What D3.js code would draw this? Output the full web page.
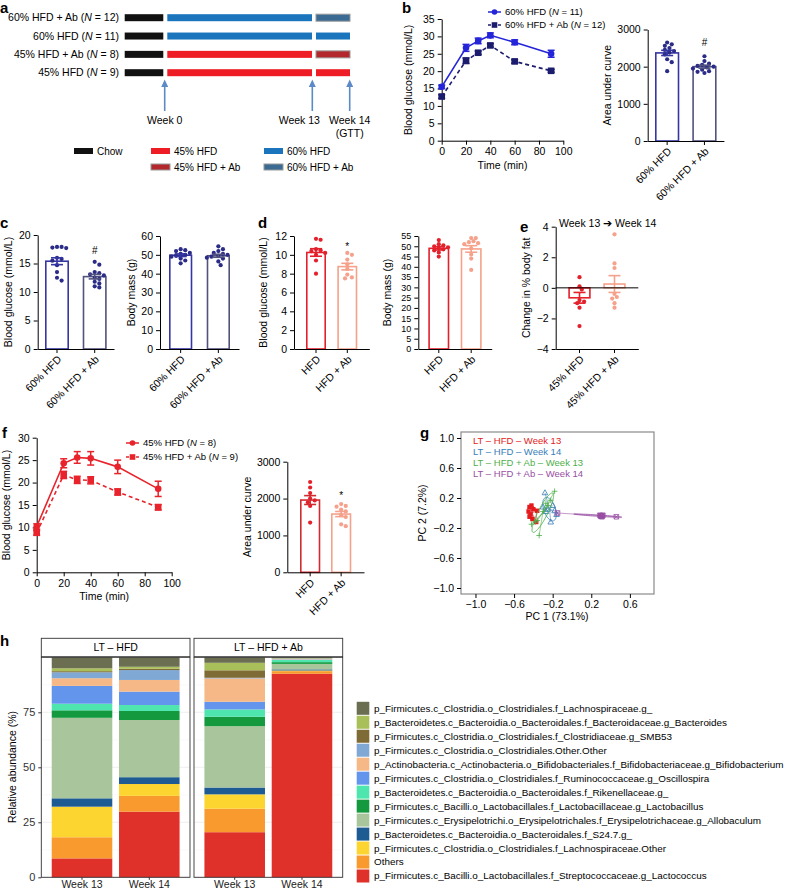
<!DOCTYPE html>
<html><head><meta charset="utf-8">
<script src="https://cdn.jsdelivr.net/npm/d3@7"></script>
<style>body{margin:0;background:#fff}</style>
</head><body>
<svg id="c" width="788" height="891" xmlns="http://www.w3.org/2000/svg"></svg>
<script>
// ---------------- DATA ----------------
// panel a
const aRows = ["60% HFD + Ab","60% HFD","45% HFD + Ab","45% HFD"];
const aN = [12,11,8,9];
const aDiet = ["60% HFD","60% HFD","45% HFD","45% HFD"];
const aFinal = ["60% HFD + Ab","60% HFD","45% HFD + Ab","45% HFD"];
const aPhaseWeeks = [-1,0,13,14];
const aArrowWeeks = [0,13,14];
const aArrowLabels = [["Week 0"],["Week 13"],["Week 14","(GTT)"]];
const aLegend = ["Chow","45% HFD","60% HFD","45% HFD + Ab","60% HFD + Ab"];
// panel b
const gttTime = [0,20,30,40,60,90];
const bHfd60 = [15.5,26.7,28.7,30.3,28.3,25.0];
const bHfd60Sem = [0.5,1.0,0.8,0.7,0.7,1.0];
const bHfd60Ab = [12.7,23.0,25.3,27.4,22.8,20.1];
const bHfd60AbSem = [0.5,0.8,0.5,0.5,0.5,0.4];
const bAucMean = [2370,2000];
const bAucSem = [70,40];
const bAucDots = [[2650,2600,2560,2500,2450,2420,2380,2330,2200,2120,1880],
                  [2280,2150,2080,2050,2020,2000,1980,1950,1920,1880,1860,1830]];
// panel c
const cGluMean = [15.4,12.7], cGluSem = [0.6,0.4];
const cGluDots = [[17.9,17.8,17.9,17.7,16.0,15.8,15.5,14.7,13.5,12.5,12.0],
                  [15.3,14.8,13.5,13.3,13.1,12.9,12.5,12.3,11.8,11.5,11.0,10.8]];
const cMassMean = [49.8,49.5], cMassSem = [0.7,0.8];
const cMassDots = [[53,52.5,52,51,50.5,50,49.5,49,48,47,45.5],
                   [54.5,53,52,51,50.5,50,49.5,49,48.5,48,46.5,44.5]];
// panel d
const dGluMean = [10.25,8.75], dGluSem = [0.4,0.35];
const dGluDots = [[11.7,11.6,10.6,10.5,10.4,10.2,10.0,9.4,8.0],
                  [10.2,10.0,9.5,9.0,8.5,7.9,7.6,7.5]];
const dMassMean = [49.0,48.7], dMassSem = [0.8,1.6];
const dMassDots = [[53,51,50.5,50,49.5,49,48.5,48,47,45],
                   [54,54,52.5,52,51.5,51,49,46,44,38.5]];
// panel e
const eMean = [-0.65,0.25], eSem = [0.35,0.55];
const eDots = [[0.7,0.1,-0.1,-0.8,-0.9,-1.0,-1.3,-2.5],
               [3.5,1.6,1.3,-0.4,-0.6,-0.7,-1.0,-1.3]];
// panel f
const fHfd45 = [10.2,24.3,25.6,25.4,23.5,18.6];
const fHfd45Sem = [0.6,1.0,1.3,1.5,1.5,1.7];
const fHfd45Ab = [8.8,21.7,20.6,20.5,17.9,14.5];
const fHfd45AbSem = [0.5,0.8,0.8,0.8,0.7,0.6];
const fAucMean = [1960,1580], fAucSem = [120,70];
const fAucDots = [[2450,2300,2150,2000,1950,1900,1800,1350],
                  [1850,1800,1780,1700,1650,1550,1500,1300,1250]];
// panel g (PC1, PC2)
const gGroups = ["LT – HFD – Week 13","LT – HFD – Week 14","LT – HFD + Ab – Week 13","LT – HFD + Ab – Week 14"];
const gPC1 = [[-0.44,-0.42,-0.45,-0.40,-0.43,-0.41,-0.37,-0.44,-0.36],
              [-0.28,-0.16,-0.22,-0.25,-0.30,-0.20,-0.27,-0.18],
              [-0.18,-0.34,-0.42,-0.22,-0.36,-0.30,-0.38,-0.25,-0.27],
              [0.30,0.31,0.29,0.46,-0.15,0.30,0.32,0.31]];
const gPC2 = [[0.08,0.10,0.02,0.05,-0.02,-0.08,-0.12,-0.05,0.03],
              [0.27,-0.02,-0.12,0.05,0.08,0.10,0.02,0.03],
              [0.29,-0.30,-0.15,0.17,-0.10,0.02,-0.12,0.10,0.13],
              [-0.04,-0.04,-0.03,-0.05,0.0,-0.04,-0.03,-0.05]];
const gTicks = [-1.0,-0.6,-0.2,0.2,0.6,1.0];
// panel h
const hFacets = ["LT – HFD","LT – HFD + Ab"];
const hWeeks = ["Week 13","Week 14"];
const hTaxa = [
 "p_Firmicutes.c_Clostridia.o_Clostridiales.f_Lachnospiraceae.g_",
 "p_Bacteroidetes.c_Bacteroidia.o_Bacteroidales.f_Bacteroidaceae.g_Bacteroides",
 "p_Firmicutes.c_Clostridia.o_Clostridiales.f_Clostridiaceae.g_SMB53",
 "p_Firmicutes.c_Clostridia.o_Clostridiales.Other.Other",
 "p_Actinobacteria.c_Actinobacteria.o_Bifidobacteriales.f_Bifidobacteriaceae.g_Bifidobacterium",
 "p_Firmicutes.c_Clostridia.o_Clostridiales.f_Ruminococcaceae.g_Oscillospira",
 "p_Bacteroidetes.c_Bacteroidia.o_Bacteroidales.f_Rikenellaceae.g_",
 "p_Firmicutes.c_Bacilli.o_Lactobacillales.f_Lactobacillaceae.g_Lactobacillus",
 "p_Firmicutes.c_Erysipelotrichi.o_Erysipelotrichales.f_Erysipelotrichaceae.g_Allobaculum",
 "p_Bacteroidetes.c_Bacteroidia.o_Bacteroidales.f_S24.7.g_",
 "p_Firmicutes.c_Clostridia.o_Clostridiales.f_Lachnospiraceae.Other",
 "Others",
 "p_Firmicutes.c_Bacilli.o_Lactobacillales.f_Streptococcaceae.g_Lactococcus"];
// abundance (%) per taxon for samples [HFD wk13, HFD wk14, HFD+Ab wk13, HFD+Ab wk14]
const hAbund = [
 [5.0,4.3,2.5,0.3],
 [1.3,0.9,3.4,0.2],
 [0.5,0.6,3.4,0.1],
 [2.7,4.5,0.3,0.2],
 [3.5,5.3,10.6,0.2],
 [8.1,6.1,3.5,0.2],
 [3.0,2.7,3.3,1.0],
 [3.4,4.1,4.3,0.8],
 [36.6,26.0,27.9,2.5],
 [3.8,3.1,3.1,0.5],
 [13.9,5.4,6.5,0.3],
 [9.6,7.2,10.7,1.2],
 [8.6,29.8,20.5,92.5]];
const hTicks = [0,25,50,75];

// ---------------- STYLE ----------------
const FONT = "'Liberation Sans', Arial, Helvetica, sans-serif";
const cA = {"Chow":"#111111","45% HFD":"#ee1c24","60% HFD":"#1b75bc","45% HFD + Ab":"#b3282d","60% HFD + Ab":"#3b6a93"};
const blue1="#3535a3", blue2="#52527f", navyDot="#2b2b88";
const red1="#e3202b", salmon="#f5a18b";
const hColors = ["#6b6e50","#a9bf5a","#7f6b36","#7fa8d4","#f5b886","#6495ed","#4ee6ae","#14993f","#a9c59b","#1f5b93","#fdd530","#f99a2e","#e0302a"];
const gColors = ["#e41a1c","#377eb8","#4daf4a","#984ea3"];

const svg = d3.select("#c").attr("font-family",FONT);
svg.append("rect").attr("width",788).attr("height",891).attr("fill","#fff");

function plabel(t,x,y){svg.append("text").attr("x",x).attr("y",y).attr("font-size",15).attr("font-weight","bold").text(t);}
function styleAxis(g,fs){
  g.attr("font-family",FONT).attr("font-size",fs||10.5);
  g.selectAll("path.domain").attr("stroke","#000").attr("stroke-width",1);
  g.selectAll(".tick line").attr("stroke","#000");
  g.selectAll(".tick text").attr("fill","#000");
}
function vlabel(t,x,y,fs){
  svg.append("text").attr("transform",`translate(${x},${y}) rotate(-90)`).attr("text-anchor","middle")
    .attr("dy","0.35em").attr("font-size",fs||10.5).text(t);
}
function rotLabels(axG){
  axG.selectAll(".tick text").attr("text-anchor","end").attr("x",0).attr("y",0).attr("dy",0)
    .attr("transform","translate(5,11) rotate(-45)");
}
function swarm(vals,y,cx,r,gap){
  const pts = vals.map(v=>({v,y:y(v)})).sort((a,b)=>a.y-b.y);
  const placed=[];
  pts.forEach(p=>{
    for(let k=0;k<30;k++){
      const off = k===0?0:(k%2?1:-1)*Math.ceil(k/2)*gap;
      if(placed.every(q=>Math.hypot(q.x-(cx+off),q.y-p.y)>=2*r*0.9)){placed.push({x:cx+off,y:p.y});break;}
    }
  });
  return placed;
}

// ---------------- PANEL A ----------------
plabel("a",0,13);
const ax = d3.scaleLinear().domain(aPhaseWeeks).range([124.7,165.3,314,350]);
const ay = d3.scalePoint().domain(aRows).range([17.7,72.7]);
const segH = 7, segGap = 2;
aRows.forEach((r,i)=>{
  const segs = [["Chow",-1,0],[aDiet[i],0,13],[aFinal[i],13,14]];
  segs.forEach(([k,s,e],j)=>{
    const x0 = ax(s)+(j>0?segGap:0), x1 = ax(e)-(j<2?segGap:0);
    svg.append("rect").attr("x",x0).attr("y",ay(r)-segH/2).attr("width",x1-x0).attr("height",segH)
      .attr("fill",cA[k]).attr("stroke",k.includes("Ab")?"#9a9a9a":"none").attr("stroke-width",1);
  });
  const t = svg.append("text").attr("x",119).attr("y",ay(r)).attr("dy","0.35em").attr("text-anchor","end").attr("font-size",10.5);
  t.append("tspan").text(r+" (");
  t.append("tspan").attr("font-style","italic").text("N");
  t.append("tspan").text(" = "+aN[i]+")");
});
const arrowC = "#5b8ac6";
aArrowWeeks.forEach((w,i)=>{
  const x = ax(w)-(i===0?0.6:(i===1?1.7:0.3));
  svg.append("line").attr("x1",x).attr("x2",x).attr("y1",111).attr("y2",86).attr("stroke",arrowC).attr("stroke-width",1.6);
  svg.append("path").attr("d",`M${x-3.5},${87} L${x},${79.5} L${x+3.5},${87} Z`).attr("fill",arrowC);
  aArrowLabels[i].forEach((l,j)=>{
    svg.append("text").attr("x",x+(i===1?-13:0)).attr("y",124+j*13).attr("text-anchor","middle").attr("font-size",10.5).text(l);
  });
});
const aLegPos = [[74,151],[151,151],[264,151],[151,167],[264,167]];
aLegend.forEach((k,i)=>{
  const [x,y]=aLegPos[i];
  svg.append("rect").attr("x",x).attr("y",y-3).attr("width",19).attr("height",6).attr("fill",cA[k])
    .attr("stroke",k.includes("Ab")?"#9a9a9a":"none");
  svg.append("text").attr("x",x+23).attr("y",y).attr("dy","0.35em").attr("font-size",10).text(k);
});

// ---------------- helpers for charts ----------------
function barPanel(o){
  const y = d3.scaleLinear().domain(o.domain).range([o.y0,o.y1]);
  const n = o.cats.length;
  const pi = 1-o.bw/o.step, po=(o.firstBar-o.axisX)/o.step;
  const axisEnd = o.axisX + o.step*(n-pi+2*po);
  const x = d3.scaleBand().domain(o.cats).range([o.axisX,axisEnd]).paddingInner(pi).paddingOuter(po);
  const g = svg.append("g");
  const base = o.base!==undefined?o.base:o.domain[0];
  o.cats.forEach((c,i)=>{
    const m=o.means[i];
    g.append("rect").attr("x",x(c)+0.8).attr("width",x.bandwidth()-1.6)
      .attr("y",Math.min(y(m),y(base))).attr("height",Math.abs(y(m)-y(base)))
      .attr("fill","#fff").attr("stroke",o.colors[i]).attr("stroke-width",1.6);
  });
  o.cats.forEach((c,i)=>{
    const cx = x(c)+x.bandwidth()/2;
    swarm(o.dots[i],y,cx,2.1,2.3).forEach(p=>{
      g.append("circle").attr("cx",p.x).attr("cy",p.y).attr("r",2.1).attr("fill",o.dotColors[i]);
    });
    const m=o.means[i], s=o.sems[i];
    g.append("line").attr("x1",cx).attr("x2",cx).attr("y1",y(m-s)).attr("y2",y(m+s)).attr("stroke",o.colors[i]).attr("stroke-width",1.6);
    [m-s,m+s].forEach(v=>g.append("line").attr("x1",cx-6).attr("x2",cx+6).attr("y1",y(v)).attr("y2",y(v)).attr("stroke",o.colors[i]).attr("stroke-width",1.6));
    if(o.sig && o.sig[i]) g.append("text").attr("x",cx).attr("y",y(o.sigY[i])).attr("text-anchor","middle").attr("font-size",10).text(o.sig[i]);
  });
  const ya = g.append("g").attr("transform",`translate(${o.axisX},0)`)
    .call(d3.axisLeft(y).tickValues(o.ticks).tickSize(4).tickSizeOuter(0).tickFormat(o.fmt||d3.format("d")));
  styleAxis(ya, o.tickFs);
  const xa = g.append("g").attr("transform",`translate(0,${o.y0})`).call(d3.axisBottom(x).tickSize(4).tickSizeOuter(0));
  styleAxis(xa); rotLabels(xa);
  if(o.zero!==undefined){
    g.append("line").attr("x1",o.axisX).attr("x2",axisEnd).attr("y1",y(o.zero)).attr("y2",y(o.zero)).attr("stroke","#000");
  }
  vlabel(o.ylabel,o.ylabelX,(o.y0+o.y1)/2);
}

function linePanel(o){
  const x = d3.scaleLinear().domain([0,100]).range([o.x0,o.x1]);
  const y = d3.scaleLinear().domain([0,o.ymax]).range([o.y0,o.y1]);
  const g = svg.append("g");
  const xa = g.append("g").attr("transform",`translate(0,${o.y0})`).call(d3.axisBottom(x).tickValues([0,20,40,60,80,100]).tickSize(4).tickSizeOuter(0));
  styleAxis(xa);
  const ya = g.append("g").attr("transform",`translate(${o.x0},0)`).call(d3.axisLeft(y).tickValues(d3.range(0,o.ymax+1,5)).tickSize(4).tickSizeOuter(0));
  styleAxis(ya);
  o.series.forEach(s=>{
    const line = d3.line().x((d,i)=>x(gttTime[i])).y(d=>y(d));
    g.append("path").datum(s.mean).attr("d",line).attr("fill","none").attr("stroke",s.color).attr("stroke-width",1.6)
      .attr("stroke-dasharray",s.dash?"4,3":null);
    s.mean.forEach((m,i)=>{
      const cx=x(gttTime[i]), e=s.sem[i];
      g.append("line").attr("x1",cx).attr("x2",cx).attr("y1",y(m-e)).attr("y2",y(m+e)).attr("stroke",s.color).attr("stroke-width",1.5);
      [m-e,m+e].forEach(v=>g.append("line").attr("x1",cx-3.5).attr("x2",cx+3.5).attr("y1",y(v)).attr("y2",y(v)).attr("stroke",s.color).attr("stroke-width",1.5));
      if(s.marker==="circle") g.append("circle").attr("cx",cx).attr("cy",y(m)).attr("r",3.3).attr("fill",s.color);
      else g.append("rect").attr("x",cx-3.3).attr("y",y(m)-3.3).attr("width",6.6).attr("height",6.6).attr("fill",s.color);
    });
  });
  o.series.forEach((s,i)=>{
    const ly = o.legY[i], lx=o.legX;
    g.append("line").attr("x1",lx).attr("x2",lx+13).attr("y1",ly).attr("y2",ly).attr("stroke",s.color).attr("stroke-width",1.5).attr("stroke-dasharray",s.dash?"3,2":null);
    if(s.marker==="circle") g.append("circle").attr("cx",lx+6.5).attr("cy",ly).attr("r",2.8).attr("fill",s.color);
    else g.append("rect").attr("x",lx+3.7).attr("y",ly-2.8).attr("width",5.6).attr("height",5.6).attr("fill",s.color);
    const t=g.append("text").attr("x",lx+17).attr("y",ly).attr("dy","0.35em").attr("font-size",9.5);
    t.append("tspan").text(s.name+" (");
    t.append("tspan").attr("font-style","italic").text("N");
    t.append("tspan").text(" = "+s.n+")");
  });
  g.append("text").attr("x",(o.x0+o.x1)/2).attr("y",o.y0+28).attr("text-anchor","middle").attr("font-size",10.5).text("Time (min)");
  vlabel("Blood glucose (mmol/L)",o.ylabelX,(o.y0+o.y1)/2);
}

// ---------------- PANEL B ----------------
plabel("b",402,13);
linePanel({x0:441.7,x1:563.3,y0:140.7,y1:19,ymax:35,ylabelX:408,legX:488,legY:[12,25],
  series:[{name:"60% HFD",n:11,mean:bHfd60,sem:bHfd60Sem,color:"#2424d9",dash:false,marker:"circle"},
          {name:"60% HFD + Ab",n:12,mean:bHfd60Ab,sem:bHfd60AbSem,color:"#1c1c6e",dash:true,marker:"square"}]});
barPanel({axisX:647.7,y0:141,y1:29.5,domain:[0,3000],ticks:[0,1000,2000,3000],firstBar:655,bw:24.3,step:37.3,
  cats:["60% HFD","60% HFD + Ab"],means:bAucMean,sems:bAucSem,dots:bAucDots,colors:[blue1,blue2],dotColors:[navyDot,navyDot],
  ylabel:"Area under curve",ylabelX:607,sig:[null,"#"],sigY:[0,2560]});

// ---------------- PANEL C ----------------
plabel("c",0,228);
barPanel({axisX:37.7,y0:349,y1:235,domain:[0,20],ticks:[0,5,10,15,20],firstBar:45,bw:24,step:37.7,
  cats:["60% HFD","60% HFD + Ab"],means:cGluMean,sems:cGluSem,dots:cGluDots,colors:[blue1,blue2],dotColors:[navyDot,navyDot],
  ylabel:"Blood glucose (mmol/L)",ylabelX:8,sig:[null,"#"],sigY:[0,16.7]});
barPanel({axisX:160,y0:349,y1:236,domain:[0,60],ticks:[0,10,20,30,40,50,60],firstBar:169,bw:23.3,step:37.7,
  cats:["60% HFD ","60% HFD + Ab "],means:cMassMean,sems:cMassSem,dots:cMassDots,colors:[blue1,blue2],dotColors:[navyDot,navyDot],
  ylabel:"Body mass (g)",ylabelX:131});

// ---------------- PANEL D ----------------
plabel("d",258,228);
barPanel({axisX:294,y0:349,y1:236,domain:[0,12],ticks:[0,2,4,6,8,10,12],firstBar:306,bw:20,step:31.3,
  cats:["HFD","HFD + Ab"],means:dGluMean,sems:dGluSem,dots:dGluDots,colors:[red1,salmon],dotColors:[red1,salmon],
  ylabel:"Blood glucose (mmol/L)",ylabelX:263,sig:[null,"*"],sigY:[0,10.5]});
barPanel({axisX:418.3,y0:349,y1:236,domain:[0,55],ticks:d3.range(0,56,5),firstBar:428.3,bw:21,step:32.4,tickFs:9,
  cats:["HFD ","HFD + Ab "],means:dMassMean,sems:dMassSem,dots:dMassDots,colors:[red1,salmon],dotColors:[red1,salmon],
  ylabel:"Body mass (g)",ylabelX:387});

// ---------------- PANEL E ----------------
plabel("e",520,232);
svg.append("text").attr("x",559).attr("y",223).attr("dy","0.35em").attr("font-size",10.5).text("Week 13 ➔ Week 14");
barPanel({axisX:555.7,y0:349,y1:226.7,domain:[-4,4],ticks:[-4,-2,0,2,4],firstBar:568.3,bw:22.4,step:35,base:0,zero:0,
  cats:["45% HFD","45% HFD + Ab"],means:eMean,sems:eSem,dots:eDots,colors:[red1,salmon],dotColors:[red1,salmon],
  ylabel:"Change in % body fat",ylabelX:526});

// ---------------- PANEL F ----------------
plabel("f",2,438);
linePanel({x0:36.7,x1:171.7,y0:572.3,y1:437.7,ymax:30,ylabelX:6,legX:126,legY:[443,457],
  series:[{name:"45% HFD",n:8,mean:fHfd45,sem:fHfd45Sem,color:"#e8232b",dash:false,marker:"circle"},
          {name:"45% HFD + Ab",n:9,mean:fHfd45Ab,sem:fHfd45AbSem,color:"#e8232b",dash:true,marker:"square"}]});
barPanel({axisX:287.3,y0:572.3,y1:461.7,domain:[0,3000],ticks:[0,1000,2000,3000],firstBar:300,bw:20.3,step:31,
  cats:["HFD","HFD + Ab"],means:fAucMean,sems:fAucSem,dots:fAucDots,colors:["#d12a30",salmon],dotColors:[red1,salmon],
  ylabel:"Area under curve",ylabelX:247,sig:[null,"*"],sigY:[0,1980]});

// ---------------- PANEL G ----------------
plabel("g",420,438);
{
  const gx = d3.scaleLinear().domain([-1.15,0.85]).range([461,654]);
  const gy = d3.scaleLinear().domain([-1.08,1.08]).range([594,432]);
  const g = svg.append("g");
  g.append("rect").attr("x",461).attr("y",432).attr("width",193).attr("height",162).attr("fill","none").attr("stroke","#8a8a8a").attr("stroke-width",1.2);
  const fmt = d3.format(".1f");
  const ya = g.append("g").attr("transform","translate(461,0)").call(d3.axisLeft(gy).tickValues(gTicks).tickSize(4).tickSizeOuter(0).tickFormat(fmt));
  styleAxis(ya); ya.select(".domain").remove();
  const xa = g.append("g").attr("transform","translate(0,594)").call(d3.axisBottom(gx).tickValues(gTicks.slice(0,5)).tickSize(4).tickSizeOuter(0).tickFormat(fmt));
  styleAxis(xa); xa.select(".domain").remove();
  g.append("text").attr("x",557).attr("y",620).attr("text-anchor","middle").attr("font-size",10.5).text("PC 1 (73.1%)");
  vlabel("PC 2 (7.2%)",422,(gy(1)+gy(-1))/2);
  gGroups.forEach((name,k)=>{
    const xs=gPC1[k], ys=gPC2[k], col=gColors[k];
    const mx=d3.mean(xs), my=d3.mean(ys);
    const sxx=d3.mean(xs.map(v=>(v-mx)**2)), syy=d3.mean(ys.map(v=>(v-my)**2));
    const sxy=d3.mean(xs.map((v,i)=>(v-mx)*(ys[i]-my)));
    const tr=sxx+syy, det=sxx*syy-sxy*sxy, disc=Math.sqrt(Math.max(0,tr*tr/4-det));
    const l1=tr/2+disc, l2=Math.max(tr/2-disc,0);
    const ang = Math.abs(sxy)<1e-12 ? (sxx>=syy?0:Math.PI/2) : Math.atan2(l1-sxx,sxy);
    const a=1.5*Math.sqrt(l1), b=1.5*Math.sqrt(l2);
    const ell = d3.range(0,361,6).map(t=>{const r=t*Math.PI/180;const ex=a*Math.cos(r),ey=b*Math.sin(r);
      return [gx(mx+ex*Math.cos(ang)-ey*Math.sin(ang)), gy(my+ex*Math.sin(ang)+ey*Math.cos(ang))];});
    xs.forEach((v,i)=>g.append("line").attr("x1",gx(mx)).attr("y1",gy(my)).attr("x2",gx(v)).attr("y2",gy(ys[i])).attr("stroke",col).attr("stroke-width",0.7).attr("opacity",0.8));
    g.append("path").attr("d",d3.line()(ell)).attr("fill","none").attr("stroke",col).attr("stroke-width",0.8);
    xs.forEach((v,i)=>{
      const px=gx(v), py=gy(ys[i]);
      if(k===0) g.append("rect").attr("x",px-2.2).attr("y",py-2.2).attr("width",4.4).attr("height",4.4).attr("fill",col);
      else if(k===1) g.append("path").attr("d",`M${px},${py-3} L${px+2.8},${py+2} L${px-2.8},${py+2} Z`).attr("fill","none").attr("stroke",col).attr("stroke-width",0.8);
      else if(k===2) g.append("path").attr("d",`M${px-2.8},${py} H${px+2.8} M${px},${py-2.8} V${py+2.8}`).attr("stroke",col).attr("stroke-width",0.8);
      else g.append("path").attr("d",`M${px-2.3},${py-2.3} h4.6 v4.6 h-4.6 Z M${px-2.3},${py-2.3} L${px+2.3},${py+2.3} M${px+2.3},${py-2.3} L${px-2.3},${py+2.3}`).attr("fill","none").attr("stroke",col).attr("stroke-width",0.8);
    });
    g.append("text").attr("x",473).attr("y",440.7+k*11).attr("dy","0.35em").attr("font-size",9.5).attr("fill",col).text(name);
  });
}

// ---------------- PANEL H ----------------
plabel("h",0,646);
{
  const y = d3.scaleLinear().domain([0,100]).range([877.3,657.3]);
  const facetX = [[41.3,190],[194,342.7]];
  const g = svg.append("g");
  const order = hTaxa.map((t,i)=>i).reverse();
  const rows = [0,1,2,3].map(s=>{const o={};hTaxa.forEach((t,i)=>o[t]=hAbund[i][s]);return o;});
  const stack = d3.stack().keys(order.map(i=>hTaxa[i]))(rows);
  hFacets.forEach((f,fi)=>{
    const [x0,x1]=facetX[fi];
    const x = d3.scaleBand().domain(hWeeks).range([x0,x1]).paddingInner(0.1).paddingOuter(0.155);
    g.append("rect").attr("x",x0).attr("y",657.3).attr("width",x1-x0).attr("height",220).attr("fill","#fff");
    hTicks.forEach(t=>g.append("line").attr("x1",x0).attr("x2",x1).attr("y1",y(t)).attr("y2",y(t)).attr("stroke","#ebebeb").attr("stroke-width",0.8));
    [12.5,37.5,62.5,87.5].forEach(t=>g.append("line").attr("x1",x0).attr("x2",x1).attr("y1",y(t)).attr("y2",y(t)).attr("stroke","#f4f4f4").attr("stroke-width",0.5));
    stack.forEach((layer,li)=>{
      const ti = order[li];
      hWeeks.forEach((w,wi)=>{
        const d = layer[fi*2+wi];
        if(d[1]-d[0]<=0) return;
        g.append("rect").attr("x",x(w)).attr("width",x.bandwidth()).attr("y",y(d[1])).attr("height",y(d[0])-y(d[1])).attr("fill",hColors[ti]);
      });
    });
    g.append("rect").attr("x",x0).attr("y",657.3).attr("width",x1-x0).attr("height",220).attr("fill","none").attr("stroke","#333").attr("stroke-width",0.9);
    g.append("rect").attr("x",x0).attr("y",638.3).attr("width",x1-x0).attr("height",18.4).attr("fill","#fff").attr("stroke","#333").attr("stroke-width",0.9);
    g.append("text").attr("x",(x0+x1)/2).attr("y",647.5).attr("dy","0.35em").attr("text-anchor","middle").attr("font-size",10.5).text(f);
    const xa = g.append("g").attr("transform","translate(0,877.3)").call(d3.axisBottom(x).tickSize(2.5).tickSizeOuter(0));
    styleAxis(xa,10.5); xa.select(".domain").remove();
    xa.selectAll(".tick line").attr("stroke","#333");
    xa.selectAll(".tick text").attr("y",3).attr("dy","0.71em").attr("fill","#222");
  });
  const ya = g.append("g").attr("transform","translate(41.3,0)").call(d3.axisLeft(y).tickValues(hTicks).tickSize(3).tickSizeOuter(0));
  styleAxis(ya,11); ya.select(".domain").remove();
  ya.selectAll(".tick line").attr("stroke","#333"); ya.selectAll(".tick text").attr("fill","#333");
  vlabel("Relative abundance (%)",12,767,10.5);
  const ly = d3.scalePoint().domain(hTaxa).range([708.3,876]);
  hTaxa.forEach((t,i)=>{
    g.append("rect").attr("x",356.7).attr("y",ly(t)-6.5).attr("width",12.6).attr("height",13).attr("fill",hColors[i]);
    g.append("text").attr("x",374).attr("y",ly(t)).attr("dy","0.35em").attr("font-size",9.9).text(t);
  });
}
</script>
</body></html>
